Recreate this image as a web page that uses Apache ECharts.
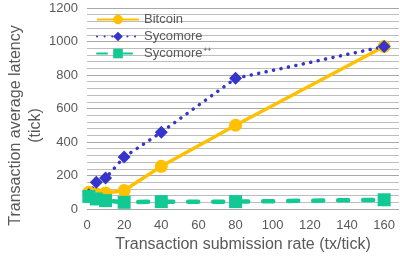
<!DOCTYPE html>
<html>
<head>
<meta charset="utf-8">
<script src="https://cdn.jsdelivr.net/npm/echarts@6/dist/echarts.min.js"></script>
<style>
  html, body { margin: 0; padding: 0; background: #fff; }
  #chart { width: 400px; height: 259px; }
</style>
</head>
<body>
<div id="chart"></div>
<script>
// submission rates (tx/tick)
const rates = [1, 5, 10, 20, 40, 80, 160];
// average latency (tick)
const bitcoin = [100, 90, 95, 110, 255, 500, 970];
const sycomore = [85, 160, 185, 310, 458, 780, 970];
const sycomorePP = [75, 60, 50, 40, 44, 44, 55];
const seriesNames = ['Bitcoin', 'Sycomore', 'Sycomore\u207A\u207A'];

const pairs = (ys) => ys.map((y, i) => [rates[i], y]);
const txt = '#595959';
const font = '"Liberation Sans", Arial, sans-serif';

const chart = echarts.init(document.getElementById('chart'));
chart.setOption({
  animation: false,
  grid: { left: 87, right: 1, top: 8, bottom: 50, outerBoundsMode: 'none', containLabel: false },
  legend: {
    orient: 'vertical',
    left: 91, top: 8,
    itemWidth: 42, itemHeight: 12, itemGap: 4,
    textStyle: { color: txt, fontSize: 13, fontFamily: font },
    data: seriesNames
  },
  xAxis: {
    type: 'value', min: 0, max: 168, interval: 20,
    name: 'Transaction submission rate (tx/tick)',
    nameLocation: 'middle', nameGap: 28,
    nameTextStyle: { color: txt, fontSize: 16, fontFamily: font },
    axisLine: { show: false }, axisTick: { show: false },
    splitLine: { show: false },
    axisLabel: { color: txt, fontSize: 13, fontFamily: font, margin: 10, showMaxLabel: false }
  },
  yAxis: {
    type: 'value', min: 0, max: 1200, interval: 200,
    name: 'Transaction average latency\n(tick)',
    nameLocation: 'middle', nameGap: 41, nameRotate: 90, nameMoveOverlap: false,
    nameTextStyle: { color: txt, fontSize: 16, fontFamily: font, lineHeight: 20, padding: [0, 34, 0, 0] },
    axisLine: { show: false }, axisTick: { show: false },
    axisLabel: { color: txt, fontSize: 13, fontFamily: font, margin: 9, formatter: (v) => String(v) },
    splitLine: { lineStyle: { color: '#a8a8a8', width: 1 } },
    minorTick: { show: false, splitNumber: 5 },
    minorSplitLine: { show: true, lineStyle: { color: '#bdbdbd', width: 1 } }
  },
  series: [
    {
      name: seriesNames[0], type: 'line', data: pairs(bitcoin),
      symbol: 'circle', symbolSize: 13,
      lineStyle: { color: '#FFC000', width: 3.5 },
      itemStyle: { color: '#FFC000' }
    },
    {
      name: seriesNames[1], type: 'line', data: pairs(sycomore),
      symbol: 'diamond', symbolSize: 13,
      lineStyle: { color: '#3535CC', width: 3.5, type: [0.1, 7.5], cap: 'round' },
      itemStyle: { color: '#3535CC' }
    },
    {
      name: seriesNames[2], type: 'line', data: pairs(sycomorePP),
      symbol: 'rect', symbolSize: 13,
      lineStyle: { color: '#12C993', width: 4.5, type: [10, 15], cap: 'round' },
      itemStyle: { color: '#12C993' }
    }
  ]
});
</script>
</body>
</html>
